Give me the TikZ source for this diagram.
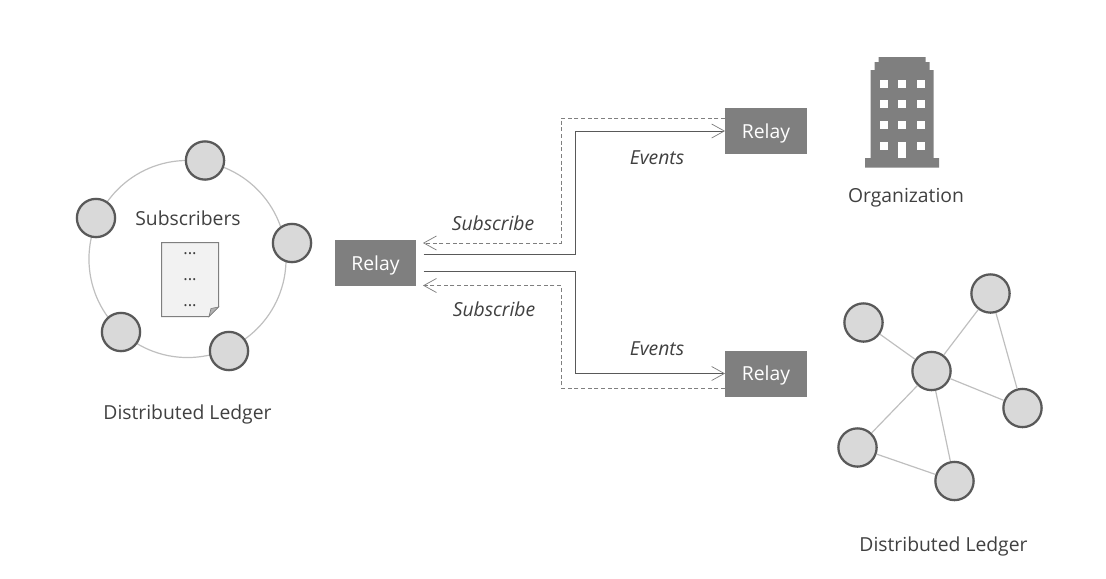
\documentclass[tikz,border=0pt]{standalone}
\usepackage{fontspec}
\setmainfont{Open Sans}
\usetikzlibrary{arrows.meta}
\definecolor{peerfill}{HTML}{D9D9D9}
\definecolor{peerline}{HTML}{595959}
\definecolor{linkgray}{HTML}{BFBFBF}
\definecolor{relaygray}{HTML}{7F7F7F}
\definecolor{textgray}{HTML}{404040}
\tikzstyle{peer}=[circle,draw=peerline,fill=peerfill,line width=1.7pt,minimum size=28.7pt,inner sep=0pt]
\tikzstyle{relay}=[rectangle,fill=relaygray,text=white,minimum width=61pt,minimum height=34.5pt,inner sep=0pt,text depth=0pt,font=\fontsize{14.5pt}{17pt}\selectfont]
\tikzstyle{label}=[text=textgray,inner sep=0pt,font=\fontsize{14.5pt}{17pt}\selectfont]
\tikzstyle{flowlabel}=[label,font=\fontsize{14.5pt}{17pt}\selectfont\itshape]
\tikzstyle{peerlink}=[draw=linkgray,line width=.9pt]
\tikzstyle{event}=[draw=peerline,line width=.65pt,-{Straight Barb[length=9.5pt,width=10.5pt,line width=.55pt,color=relaygray]}]
\tikzstyle{subscribe}=[draw=relaygray,line width=.65pt,dash pattern=on 3pt off 2pt,-{Straight Barb[length=9.5pt,width=10.5pt,line width=.55pt,sep=0pt]}]
\begin{document}
\begin{tikzpicture}[x=.75pt,y=-.75pt]
\useasboundingbox (0,0) rectangle (1106,578);

% ledger with subscribers
\node[circle,draw=linkgray,line width=.9pt,minimum size=147.8pt,inner sep=0pt] (ring) at (187.5,259) {};
\foreach \name/\pos in {a/{205,160.5},b/{96,218},c/{292,243},d/{121,332},e/{229,351}}{
	\node[peer] (p\name) at (\pos) {};
}
\node[label] (subs) at (188,218) {Subscribers};
\node[label] (ledgerL) at (187.5,414) {Distributed Ledger};

% subscriber list
\draw[draw=relaygray,fill=black!5,line width=.75pt] (161.5,242.5) -- (218.5,242.5) -- (218.5,307) -- (209,316.5) -- (161.5,316.5) -- cycle;
\draw[draw=relaygray,fill=black!30,line width=.5pt] (209,316.5) -- (211,308.5) -- (218.5,307) -- cycle;
\foreach \y [count=\i] in {254,280,306}{
	\node[text=textgray,inner sep=0pt,font=\fontsize{12.5pt}{13pt}\selectfont] (dots\i) at (190,\y) {...};
}

% relays
\node[relay] (relayL) at (375.5,263) {Relay};
\node[relay] (relayT) at (766,131) {Relay};
\node[relay] (relayB) at (766,373.5) {Relay};

\coordinate (outT) at (423.5,254.5);
\coordinate (outB) at (423.5,271);
\coordinate (inT) at (423,243);
\coordinate (inB) at (423,285.5);

\draw[event] (outT) -- ++(151.5,0) |- (relayT.west);
\draw[event] (outB) -- ++(151.5,0) |- (relayB.west);
\draw[subscribe] ([yshift=9.75pt]relayT.west) -- ++(-164,0) |- (inT);
\draw[subscribe] ([yshift=-10.9pt]relayB.west) -- ++(-164,0) |- (inB);

\node[flowlabel] (subT) at (493,223) {Subscribe};
\node[flowlabel] (subB) at (494,309) {Subscribe};
\node[flowlabel] (evT) at (657,158) {Events};
\node[flowlabel] (evB) at (657,349) {Events};

% organization
\fill[relaygray] (865,167.5) -- (865,158) -- (870.5,158) -- (870.5,70) -- (874.5,70) -- (874.5,62) -- (878.5,62) -- (878.5,57) -- (925.5,57) -- (925.5,62) -- (929.5,62) -- (929.5,70) -- (933.5,70) -- (933.5,158) -- (939,158) -- (939,167.5) -- cycle;
\foreach \x in {879.5,898,916.5}{
	\foreach \y in {79.5,100,121}{
		\fill[white] (\x,\y) rectangle ++(8,8);
	}
}
\fill[white] (879.5,142) rectangle ++(8,8);
\fill[white] (916.5,142) rectangle ++(8,8);
\fill[white] (898,142) rectangle (906,158);
\node[label] (org) at (906,198) {Organization};

% second ledger
\foreach \name/\pos in {a/{863.5,322.5},b/{990.5,293.5},c/{931.5,371},d/{1022.5,408},e/{857.5,447.5},f/{954.5,481}}{
	\node[peer] (q\name) at (\pos) {};
}
\foreach \a/\b in {qa/qc,qb/qc,qb/qd,qc/qd,qc/qe,qc/qf,qe/qf}{
	\draw[peerlink] (\a) -- (\b);
}
\node[label] (ledgerR) at (943.5,546) {Distributed Ledger};
\end{tikzpicture}
\end{document}
